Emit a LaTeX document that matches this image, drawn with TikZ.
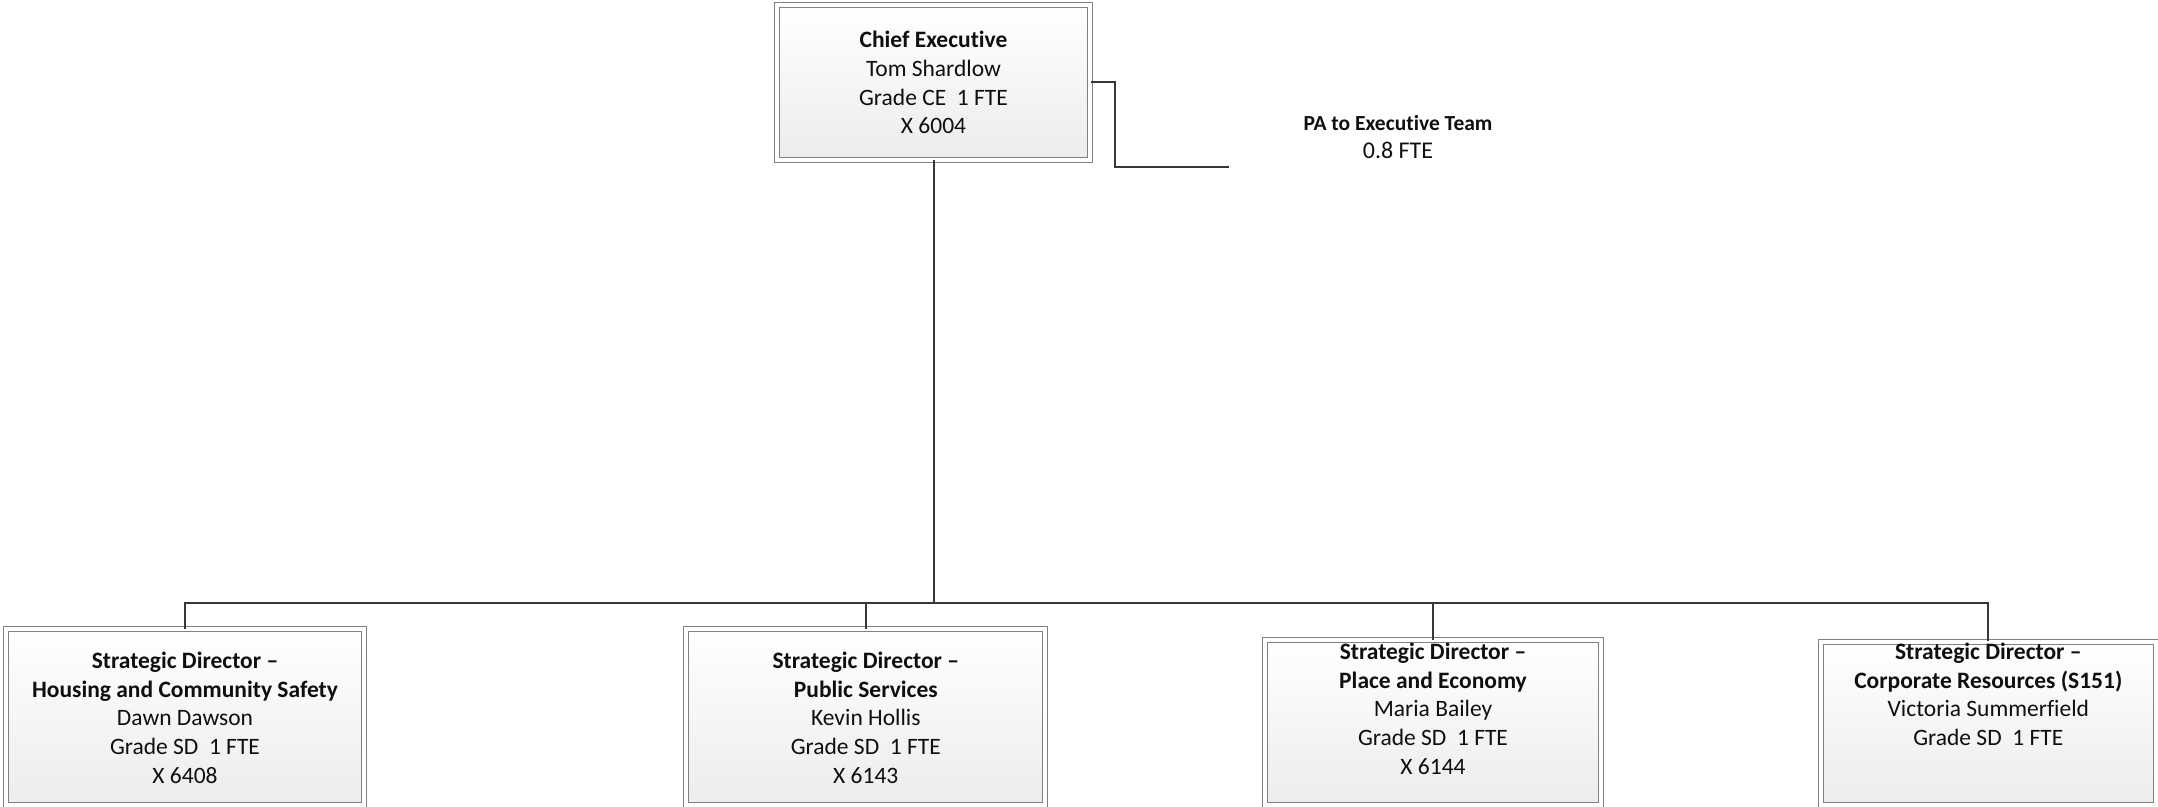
\documentclass[tikz,border=0pt]{standalone}
\usepackage{fontspec}
\setmainfont{Carlito}[Ligatures={NoCommon}]
\definecolor{boxline}{RGB}{128,128,128}
\definecolor{boxbottom}{RGB}{236,236,236}
\definecolor{connline}{RGB}{55,55,55}
\definecolor{txtcol}{RGB}{15,15,15}
\begin{document}
\begin{tikzpicture}[x=1pt,y=-1pt,
  orgbox/.style={draw=boxline, line width=1pt, double=white, double distance=4pt,
    top color=white, bottom color=boxbottom, inner sep=0pt},
  txt/.style={align=center, inner sep=0pt, text=txtcol, font=\fontsize{23.5}{28.7}\selectfont},
  patxt/.style={align=center, inner sep=0pt, text=txtcol, font=\fontsize{21.5}{28.5}\selectfont},
  conn/.style={draw=connline, line width=2pt}]
\useasboundingbox (0,0) rectangle (2158,806);

% boxes
\node[orgbox, minimum width=313.5pt, minimum height=154.5pt] (ce) at (933.5,82.25) {};
\node[orgbox, minimum width=358.4pt, minimum height=176pt] (b1) at (185,717.2) {};
\node[orgbox, minimum width=358.7pt, minimum height=176pt] (b2) at (865.8,717.2) {};
\node[orgbox, minimum width=335.6pt, minimum height=165pt] (b3) at (1433,722.7) {};
\node[orgbox, minimum width=335pt, minimum height=163.4pt] (b4) at (1988.3,723.5) {};

% texts
\node[txt] (cet) at (933.5,82.5) {\textbf{Chief Executive}\\Tom Shardlow\\Grade CE~~1 FTE\\X 6004};
\node[txt] (b1t) at (185,717.8) {\textbf{Strategic Director –}\\\textbf{Housing and Community Safety}\\Dawn Dawson\\Grade SD~~1 FTE\\X 6408};
\node[txt] (b2t) at (865.8,717.8) {\textbf{Strategic Director –}\\\textbf{Public Services}\\Kevin Hollis\\Grade SD~~1 FTE\\X 6143};
\node[txt] (b3t) at (1433,708.8) {\textbf{Strategic Director –}\\\textbf{Place and Economy}\\Maria Bailey\\Grade SD~~1 FTE\\X 6144};
\node[txt] (b4t) at (1988.3,694.4) {\textbf{Strategic Director –}\\\textbf{Corporate Resources (S151)}\\Victoria Summerfield\\Grade SD~~1 FTE};
\node[patxt] (pa) at (1398,137) {\textbf{PA to Executive Team}\\{\fontsize{24}{28.5}\selectfont 0.8 FTE}};

% connectors
\coordinate (bus) at (0,603.3);
\coordinate (paend) at (1229,166.7);
\draw[conn] (ce.south) -- (ce.south |- bus);
\foreach \b in {b1,b2,b3,b4}
  \draw[conn] (ce.south |- bus) -| (\b.north);
\draw[conn] (ce.east) -- ++(24,0) |- (paend);
\end{tikzpicture}
\end{document}
